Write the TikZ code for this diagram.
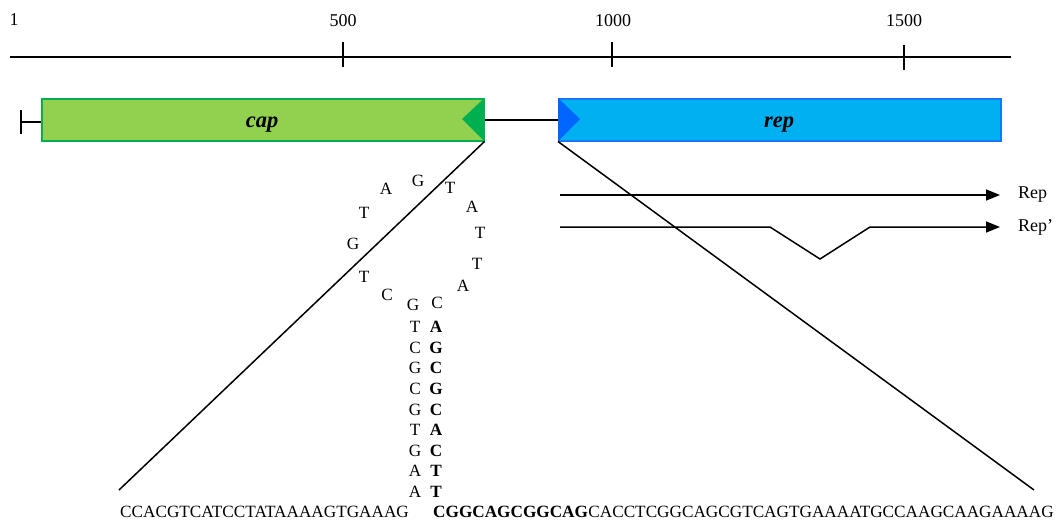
\documentclass[tikz,border=0pt]{standalone}
\usepackage{fontspec}
\setmainfont{Liberation Serif}
\usetikzlibrary{arrows.meta}
\definecolor{capfill}{HTML}{92D050}
\definecolor{capdark}{HTML}{00B050}
\definecolor{repfill}{HTML}{00B0F0}
\definecolor{repdark}{HTML}{0066FF}
\definecolor{repedge}{HTML}{1A75F0}
\begin{document}
\begin{tikzpicture}[x=1pt,y=-1pt,
  base/.style={font=\fontsize{17.2}{20}\selectfont, inner sep=0pt},
  bbase/.style={font=\fontsize{17.2}{20}\selectfont\bfseries, inner sep=0pt},
  numlbl/.style={font=\fontsize{18}{20}\selectfont, inner sep=0pt},
  genebox/.style={minimum width=442pt, minimum height=42pt, inner sep=0pt, anchor=north west, line width=1.5pt},
  genelbl/.style={font=\fontsize{22.5}{24}\selectfont\bfseries\itshape, inner sep=0pt, anchor=base},
  rule/.style={line width=2.2pt},
  thin/.style={line width=1.5pt},
  arr/.style={line width=1.5pt, -{Triangle[length=14pt,width=11pt]}}]
\useasboundingbox (0,0) rectangle (1059,522);

% ruler
\coordinate (r0) at (10,57);
\coordinate (r1) at (1011,57);
\draw[rule] (r0) -- (r1);
\coordinate (t1a) at (343,42); \coordinate (t1b) at (343,67);
\coordinate (t2a) at (612,42); \coordinate (t2b) at (612,67);
\coordinate (t3a) at (904,45); \coordinate (t3b) at (904,70);
\draw[rule] (t1a) -- (t1b);
\draw[rule] (t2a) -- (t2b);
\draw[rule] (t3a) -- (t3b);
\node[numlbl] (n1) at (14,20) {1};
\node[numlbl] (n500) at (343,21) {500};
\node[numlbl] (n1000) at (613,21) {1000};
\node[numlbl] (n1500) at (904,21) {1500};

% genes
\node[genebox, draw=capdark, fill=capfill] (cap) at (41,98) {};
\node[genebox, draw=repedge, fill=repfill] (rep) at (558,98) {};
\coordinate (captip) at (462,119);
\coordinate (reptip) at (580,119);
\fill[capdark] (cap.north east) -- (captip) -- (cap.south east) -- cycle;
\fill[repdark] (rep.north west) -- (reptip) -- (rep.south west) -- cycle;
\node[genelbl] (caplbl) at (262,127) {cap};
\node[genelbl] (replbl) at (779,127) {rep};
\draw[rule] (cap.east) -- (rep.west);

% left end bar
\coordinate (lb0) at (21,110); \coordinate (lb1) at (21,134);
\coordinate (lbm) at (21,122); \coordinate (lbc) at (41,122);
\draw[rule] (lb0) -- (lb1);
\draw[rule] (lbm) -- (lbc);

% zoom lines
\coordinate (zl) at (119,490);
\coordinate (zr) at (1034,490);
\draw[thin] (cap.south east) -- (zl);
\draw[thin] (rep.south west) -- (zr);

% transcripts
\coordinate (a0) at (560,195); \coordinate (a1) at (1000,195);
\draw[arr] (a0) -- (a1);
\node[numlbl, anchor=west] (lrep) at (1018,195) {Rep};
\coordinate (b0) at (560,227); \coordinate (b1) at (770,227);
\coordinate (b2) at (820,259); \coordinate (b3) at (870,227);
\coordinate (b4) at (1000,227);
\draw[arr] (b0) -- (b1) -- (b2) -- (b3) -- (b4);
\node[numlbl, anchor=west] (lrepp) at (1018,227) {Rep’};

% hairpin loop
\node[base] (h1) at (364,277) {T};
\node[base] (h2) at (353,244) {G};
\node[base] (h3) at (364,213) {T};
\node[base] (h4) at (386,189) {A};
\node[base] (h5) at (418,181) {G};
\node[base] (h6) at (450,188) {T};
\node[base] (h7) at (472,207) {A};
\node[base] (h8) at (480,233) {T};
\node[base] (h9) at (477,264) {T};
\node[base] (h10) at (463,286) {A};
\node[base] (h11) at (437,303) {C};
\node[base] (h12) at (413,305) {G};
\node[base] (h13) at (387,295) {C};

% stem
\foreach \l/\r [count=\i from 0] in {T/A,C/G,G/C,C/G,G/C,T/A,G/C,A/T,A/T}{
  \node[base] (sl\i) at (415,{327+20.6*\i}) {\l};
  \node[bbase] (sr\i) at (436,{327+20.6*\i}) {\r};
}

% bottom sequence
\node[base, anchor=base west] (s1) at (120,517.5) {CCACGTCATCCTATAAAAGTGAAAG};
\node[bbase, anchor=base west] (s2) at (433,517.5) {CGGCAGCGGCAG};
\node[base, anchor=base west] (s3) at (s2.base east) {CACCTCGGCAGCGTCAGTGAAAATGCCAAGCAAGAAAAG};
\end{tikzpicture}
\end{document}
